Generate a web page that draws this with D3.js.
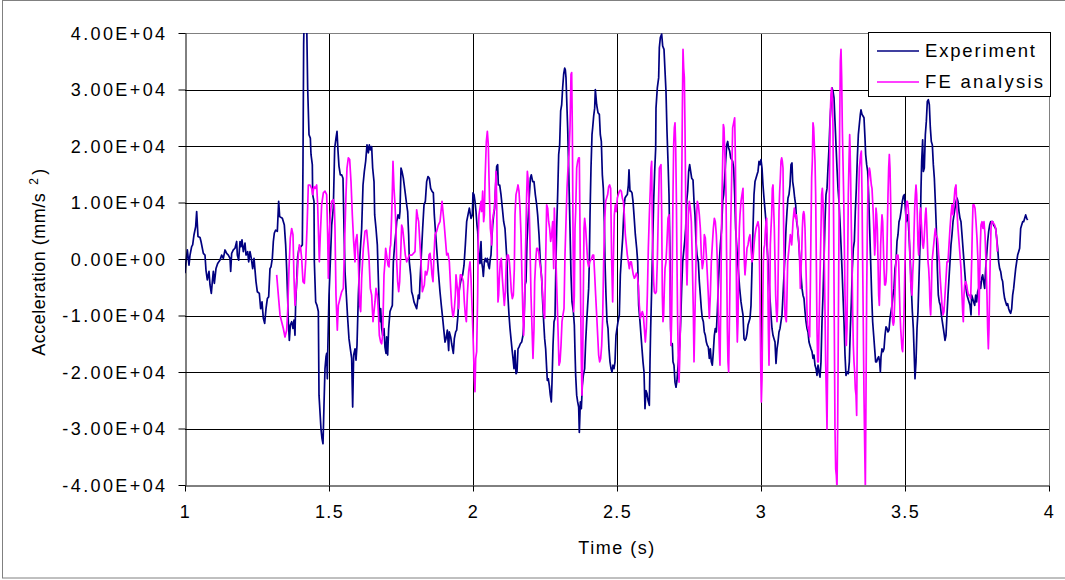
<!DOCTYPE html>
<html><head><meta charset="utf-8">
<script src="https://cdn.jsdelivr.net/npm/d3@7"></script>
<style>
html,body{margin:0;padding:0;background:#fff;}
svg{display:block;font-family:"Liberation Sans",Arial,sans-serif;}
</style></head>
<body>
<svg id="chart" width="1065" height="580"></svg>
<script>
// ---------------- DATA ----------------
const xTicks = [1, 1.5, 2, 2.5, 3, 3.5, 4];
const xTickLabels = ["1", "1.5", "2", "2.5", "3", "3.5", "4"];
const yTicks = [40000, 30000, 20000, 10000, 0, -10000, -20000, -30000, -40000];
const yTickLabels = ["4.00E+04", "3.00E+04", "2.00E+04", "1.00E+04", "0.00E+00", "-1.00E+04", "-2.00E+04", "-3.00E+04", "-4.00E+04"];
const seriesNames = ["Experiment", "FE analysis"];

const expTime = [1.0000,1.0035,1.0081,1.0139,1.0174,1.0231,1.0266,1.0313,1.0370,1.0405,1.0451,1.0521,1.0556,1.0637,1.0694,1.0729,1.0775,1.0833,1.0868,1.0914,1.0949,1.0984,1.1019,1.1076,1.1134,1.1215,1.1273,1.1331,1.1389,1.1447,1.1505,1.1563,1.1586,1.1620,1.1678,1.1736,1.1794,1.1817,1.1863,1.1910,1.1944,1.1979,1.2025,1.2083,1.2118,1.2176,1.2211,1.2257,1.2303,1.2350,1.2396,1.2465,1.2512,1.2581,1.2627,1.2674,1.2720,1.2766,1.2813,1.2859,1.2905,1.2951,1.2986,1.3032,1.3067,1.3102,1.3148,1.3206,1.3252,
1.3287,1.3380,1.3449,1.3495,1.3530,1.3565,1.3588,1.3623,1.3657,1.3704,1.3750,1.3785,1.3819,1.3843,1.3877,1.3912,1.3958,1.4028,1.4074,1.4097,1.4120,1.4155,1.4225,1.4259,1.4306,1.4352,1.4375,1.4421,1.4433,1.4479,1.4491,1.4537,1.4583,1.4630,1.4653,1.4722,1.4757,1.4792,1.4826,1.4861,1.4896,1.4919,1.4942,1.4954,1.5000,1.5046,1.5093,1.5150,1.5197,1.5243,1.5278,1.5313,1.5347,1.5394,1.5440,1.5486,1.5521,1.5556,1.5602,1.5648,1.5694,1.5741,1.5787,1.5822,1.5856,1.5903,1.5938,1.5972,1.6019,1.6076,1.6134,1.6181,1.6227,1.6273,1.6319,1.6366,1.6400,1.6435,1.6481,
1.6516,1.6563,1.6586,1.6632,1.6678,1.6713,1.6748,1.6771,1.6794,1.6829,1.6863,1.6910,1.6944,1.6979,1.7002,1.7037,1.7072,1.7118,1.7153,1.7199,1.7234,1.7280,1.7326,1.7350,1.7396,1.7442,1.7465,1.7500,1.7535,1.7581,1.7639,1.7697,1.7731,1.7766,1.7789,1.7836,1.7870,1.7905,1.7951,1.7998,1.8044,1.8102,1.8137,1.8160,1.8206,1.8252,1.8299,1.8345,1.8391,1.8438,1.8484,1.8530,1.8576,1.8623,1.8657,1.8704,1.8738,1.8796,1.8854,1.8900,1.8947,1.8993,1.9028,1.9063,1.9109,1.9155,1.9178,1.9225,1.9259,1.9317,1.9352,1.9398,1.9433,1.9479,1.9514,1.9549,1.9595,1.9641,1.9688,1.9734,1.9780,1.9826,1.9873,
1.9931,1.9977,2.0000,2.0035,2.0069,2.0104,2.0139,2.0162,2.0185,2.0208,2.0243,2.0278,2.0301,2.0336,2.0359,2.0394,2.0428,2.0463,2.0498,2.0532,2.0567,2.0602,2.0625,2.0648,2.0683,2.0718,2.0752,2.0787,2.0822,2.0856,2.0880,2.0926,2.0972,2.1019,2.1065,2.1111,2.1146,2.1181,2.1204,2.1250,2.1285,2.1319,2.1354,2.1389,2.1424,2.1458,2.1493,2.1528,2.1563,2.1597,2.1644,2.1690,2.1736,2.1771,2.1806,2.1840,2.1875,2.1910,2.1944,2.1991,2.2025,2.2072,2.2118,2.2164,2.2211,2.2245,2.2292,2.2338,2.2384,2.2419,2.2454,2.2488,2.2523,2.2558,2.2581,2.2616,2.2650,2.2685,2.2720,2.2743,2.2778,2.2813,2.2847,2.2870,2.2905,2.2940,2.2975,2.3009,2.3044,2.3079,2.3113,2.3148,2.3183,
2.3206,2.3229,2.3252,2.3287,2.3322,2.3368,2.3403,2.3438,2.3484,2.3519,2.3542,2.3565,2.3600,2.3634,2.3669,2.3692,2.3727,2.3762,2.3796,2.3831,2.3877,2.3912,2.3947,2.3981,2.4016,2.4039,2.4063,2.4097,2.4132,2.4155,2.4190,2.4225,2.4248,2.4294,2.4340,2.4387,2.4421,2.4456,2.4491,2.4525,2.4560,2.4583,2.4618,2.4653,2.4688,2.4722,2.4757,2.4792,2.4826,2.4861,2.4896,2.4931,2.4965,2.5000,2.5035,2.5081,2.5116,2.5150,2.5197,2.5243,2.5278,2.5313,2.5359,2.5394,2.5417,2.5451,2.5486,2.5521,2.5556,2.5590,2.5637,2.5683,2.5718,2.5752,2.5799,2.5833,2.5868,2.5903,2.5938,2.5972,2.6007,2.6042,2.6076,2.6123,2.6146,2.6169,2.6204,2.6238,2.6273,2.6308,2.6343,
2.6354,2.6400,2.6447,2.6470,2.6505,2.6551,2.6586,2.6632,2.6667,2.6701,2.6736,2.6771,2.6806,2.6840,2.6863,2.6887,2.6921,2.6944,2.6979,2.7014,2.7049,2.7083,2.7130,2.7176,2.7211,2.7245,2.7280,2.7315,2.7350,2.7384,2.7419,2.7454,2.7488,2.7523,2.7558,2.7593,2.7639,2.7674,2.7708,2.7743,2.7778,2.7824,2.7859,2.7894,2.7928,2.7963,2.7998,2.8032,2.8067,2.8102,2.8137,2.8171,2.8206,2.8241,2.8275,2.8310,2.8345,2.8380,2.8414,2.8449,2.8484,2.8519,2.8553,2.8588,2.8634,2.8669,2.8704,2.8738,2.8773,2.8808,2.8843,2.8877,2.8912,2.8947,2.8981,2.9016,2.9051,2.9086,2.9120,2.9155,2.9190,2.9225,2.9259,2.9306,2.9340,2.9375,2.9410,2.9444,2.9479,2.9514,2.9549,2.9583,2.9618,2.9653,2.9687,2.9722,2.9757,
2.9792,2.9826,2.9861,2.9896,2.9931,2.9965,3.0000,3.0035,3.0069,3.0104,3.0139,3.0174,3.0208,3.0243,3.0278,3.0312,3.0347,3.0382,3.0417,3.0451,3.0486,3.0521,3.0556,3.0590,3.0625,3.0660,3.0694,3.0729,3.0764,3.0799,3.0833,3.0868,3.0903,3.0937,3.0972,3.1007,3.1042,3.1076,3.1100,3.1134,3.1169,3.1204,3.1238,3.1273,3.1308,3.1354,3.1389,3.1424,3.1458,3.1493,3.1528,3.1563,3.1597,3.1632,3.1667,3.1701,3.1736,3.1771,3.1806,3.1840,3.1875,3.1910,3.1944,3.1979,3.2014,3.2049,3.2083,3.2118,3.2153,3.2187,3.2222,3.2257,3.2292,3.2326,3.2361,3.2396,3.2431,3.2465,3.2500,3.2535,3.2569,3.2604,3.2639,3.2674,3.2708,3.2743,3.2778,3.2812,3.2847,3.2882,3.2917,3.2951,
3.2998,3.3032,3.3067,3.3102,3.3137,3.3171,3.3206,3.3241,3.3275,3.3310,3.3345,3.3380,3.3414,3.3449,3.3472,3.3507,3.3542,3.3576,3.3611,3.3634,3.3669,3.3704,3.3738,3.3773,3.3808,3.3843,3.3877,3.3912,3.3947,3.3981,3.4016,3.4051,3.4086,3.4120,3.4144,3.4167,3.4201,3.4236,3.4271,3.4306,3.4340,3.4375,3.4410,3.4444,3.4479,3.4514,3.4549,3.4583,3.4618,3.4653,3.4688,3.4722,3.4757,3.4792,3.4826,3.4861,3.4907,3.4942,3.4977,3.5012,3.5046,3.5081,3.5116,3.5150,3.5185,3.5220,3.5255,3.5289,3.5324,3.5347,3.5382,3.5417,3.5451,3.5486,3.5521,3.5556,3.5579,3.5613,3.5637,3.5671,3.5706,3.5741,3.5775,3.5810,3.5845,3.5880,3.5914,3.5949,3.5984,3.6019,3.6053,3.6088,3.6123,3.6157,3.6192,3.6227,3.6262,3.6296,3.6331,3.6366,
3.6389,3.6424,3.6458,3.6493,3.6528,3.6562,3.6597,3.6632,3.6667,3.6701,3.6736,3.6771,3.6806,3.6840,3.6875,3.6910,3.6944,3.6979,3.7014,3.7049,3.7083,3.7118,3.7153,3.7187,3.7222,3.7257,3.7292,3.7315,3.7350,3.7384,3.7419,3.7454,3.7488,3.7523,3.7558,3.7593,3.7627,3.7662,3.7697,3.7731,3.7766,3.7801,3.7836,3.7870,3.7905,3.7940,3.7975,3.8009,3.8044,3.8079,3.8113,3.8148,3.8183,3.8218,3.8252,3.8287,3.8322,3.8356,3.8391,3.8426,3.8461,3.8495,3.8530,3.8565,3.8600,3.8634,3.8669,3.8704,3.8738,3.8773,3.8808,3.8843,3.8877,3.8912,3.8947,3.8981,3.9016,3.9051,3.9086,3.9120,3.9155,3.9190,3.9225,3.9259];

const expAccel = [-2500,-500,1600,-1100,700,2200,2500,4300,5700,8400,4000,3800,3100,1000,700,-2000,-3700,-2200,-4600,-6100,-4000,-2200,-4300,-1700,-800,-200,700,100,1600,1000,700,100,-2200,1000,1600,1900,3100,700,-200,3100,2200,3400,1300,2800,700,1300,-500,1300,100,-1700,100,-4000,-5800,-6100,-8800,-7600,-10500,-11400,-8800,-7000,-6700,-1700,-1400,100,3100,4600,5100,4900,10200,
7500,7200,6000,2500,-1700,-7000,-11100,-14400,-11700,-11100,-12300,-10800,-13500,-7600,-4000,400,1900,2200,2500,17300,38000,48000,42000,30300,22000,21400,18500,16700,11400,10200,-500,-7600,-8200,-9300,-24100,-30100,-31800,-32700,-25900,-19400,-17300,-16700,-21200,-17000,-6400,-500,6000,9000,19600,21400,22600,19100,16400,14900,14900,14300,5400,-2200,-6400,-10500,-14100,-15900,-17600,-26200,-17000,-15900,-17900,-15300,-6400,700,5400,13100,15500,17300,20200,18800,20200,19300,19900,
16100,13700,7800,5400,2500,-3400,-9300,-11100,-8800,-12300,-13500,-12300,-15600,-16700,-13800,-17000,-12300,-9300,-8800,-8200,-500,2500,4900,6600,7800,7200,8400,16100,15500,14300,12000,9600,8400,4300,-500,-2800,-5800,-6400,-7600,-8200,-8800,-6400,-7000,-4000,700,5400,9600,10200,13700,14600,14300,12500,12000,11700,7800,4300,1900,-2200,-5800,-8200,-10500,-12900,-14700,-14100,-12600,-16200,-12900,-13800,-15000,-16700,-14100,-12900,-12600,-9900,-5800,-4600,-3400,-2800,-1100,2500,6600,7800,9000,
7200,7800,11700,11400,10200,8400,6000,4900,2500,100,-800,3100,-500,-1700,-3100,-500,100,-500,100,-1100,-1700,100,700,3100,6000,7800,9000,13100,16400,16700,13100,13100,11400,9000,6600,5400,2500,-500,-5800,-9900,-12300,-14100,-15900,-17600,-19400,-16200,-20300,-20000,-15900,-15600,-15000,-14700,-13500,-11100,-4600,-4000,3100,6600,10200,14300,14900,13700,13700,11400,9600,7800,4300,-500,-3400,-7600,-11100,-14100,-15900,-19400,-21500,-21200,-22400,-24100,-25300,-21800,-15300,-11100,-10500,-3400,5400,11400,18500,20200,26200,27300,30300,32700,33800,
33500,32100,28500,23200,16100,5400,-2800,-7600,-9300,-11700,-16400,-20600,-24100,-25300,-26200,-30700,-25300,-26500,-22400,-20600,-19400,-14700,-11100,-8200,-5200,-500,7800,16100,22000,23200,25300,26700,30000,27300,25900,25600,22000,20800,14900,12500,6600,-500,-6400,-11100,-12300,-15900,-18200,-19400,-20000,-18800,-19400,-18200,-13500,-12300,-11100,-9900,-2800,100,3700,9000,10800,11100,11400,13100,15800,12000,12000,11700,10200,7800,4300,1900,-500,-8200,-11100,-13500,-15900,-18200,-20000,-26500,-23300,-23800,-25000,-25900,-18200,-12300,-5200,2500,10200,15500,19600,
26700,30300,32100,37400,39200,39800,37700,37100,33300,29700,22600,17300,11400,700,-12300,-15300,-15000,-18200,-18800,-21800,-22700,-21500,-18200,-15300,-11100,-5200,-500,1300,3100,5400,10200,12000,15500,16700,15500,14300,14000,10200,7800,3100,700,-500,-4000,-6400,-8800,-10500,-11100,-12900,-13500,-14700,-15300,-15600,-17600,-15900,-18200,-18800,-16400,-13500,-12300,-12900,-9300,-4600,-500,2500,5400,10200,11400,14300,17300,20200,20800,19600,19100,17900,17600,17300,16100,11400,5400,2500,-500,-2800,-5200,-7600,-8800,-9900,-14100,-14400,-14100,-13200,-11700,-11100,-10500,-8200,-1700,5400,11400,
13700,14300,14900,15500,17300,16700,17600,16100,13100,10800,8700,6600,2500,-500,-4000,-7000,-9900,-12300,-13500,-14100,-14700,-18500,-15900,-14700,-12900,-12300,-11100,-9900,-6400,-2800,700,5400,8400,10800,11400,13100,16700,17000,13700,12500,10800,9600,6600,5400,3100,-500,-2800,-5200,-6400,-7000,-9300,-11100,-12300,-12900,-14700,-15300,-15900,-16400,-17600,-17000,-18800,-19400,-20600,-18800,-20000,-20900,-18200,-11100,-6400,-500,6600,11400,12500,16100,19600,24400,27300,30300,29700,28500,24400,20200,16100,12500,10200,6600,2500,-1700,-6400,-11100,-17000,-20600,
-20000,-20300,-18200,-12300,-7600,-1700,1900,3100,8400,12500,17900,22000,23800,25600,26400,25600,25300,25000,21400,18500,16700,15500,11400,5400,-500,-6400,-11100,-13500,-15900,-18200,-18200,-17600,-17300,-18200,-20000,-17300,-15900,-16400,-15900,-13500,-12000,-12300,-12900,-12600,-10500,-9300,-8200,-6400,-5200,-1700,-500,3100,4300,6600,7200,8400,10200,11100,11400,9000,6600,7800,6600,3100,-500,-5200,-9300,-12300,-17600,-21200,-18200,-12300,-9300,-3400,2500,12500,17300,21100,15500,16100,22000,24400,27900,28200,27300,23200,20800,20200,16700,14300,10200,5400,-1700,-6400,-7600,-8200,-9900,-11100,-12300,-13500,
-14400,-13500,-9900,-6400,-3400,-500,2500,4300,6600,7800,9000,10200,10800,10200,8400,7200,6600,4300,1900,-500,-2800,-5200,-6400,-7000,-7600,-8200,-9900,-6400,-7000,-7600,-8200,-6400,-7600,-5800,-5200,-4000,-5200,-3400,-2800,-4000,-5200,-1700,700,3100,4900,6000,6600,6600,6600,6000,5700,5400,3700,1900,-500,-1700,-2200,-3400,-4000,-5800,-7000,-7600,-8200,-7900,-8800,-9300,-9600,-8800,-6400,-5200,-3400,-1700,-500,700,1300,1900,5400,6000,6600,6600,7200,7800,7200,6900];

const feTime = [1.3183,1.3241,1.3299,1.3356,1.3414,1.3472,1.3530,1.3565,1.3611,1.3657,1.3704,1.3750,1.3785,1.3819,1.3854,1.3900,1.3935,1.3970,1.4016,1.4051,1.4097,1.4144,1.4190,1.4236,1.4282,1.4340,1.4398,1.4433,1.4479,1.4525,1.4572,1.4606,1.4630,1.4664,1.4699,1.4745,1.4803,1.4861,1.4919,1.4954,1.4977,1.5012,1.5046,1.5093,1.5150,1.5185,1.5208,1.5243,1.5289,1.5324,1.5382,1.5440,1.5498,1.5556,1.5590,1.5625,1.5671,1.5718,1.5764,1.5810,1.5856,1.5903,1.5926,1.5972,1.6019,1.6065,1.6100,1.6134,1.6192,1.6250,1.6308,1.6343,1.6389,1.6435,1.6481,1.6528,
1.6597,1.6632,1.6678,1.6713,1.6748,1.6794,1.6829,1.6863,1.6910,1.6944,1.6968,1.7002,1.7049,1.7083,1.7118,1.7141,1.7176,1.7199,1.7222,1.7257,1.7292,1.7326,1.7350,1.7384,1.7419,1.7454,1.7488,1.7523,1.7558,1.7581,1.7616,1.7650,1.7697,1.7743,1.7789,1.7882,1.7986,1.8021,1.8044,1.8079,1.8113,1.8160,1.8194,1.8241,1.8275,1.8310,1.8345,1.8391,1.8438,1.8472,1.8507,1.8542,1.8576,1.8611,1.8646,1.8681,1.8738,1.8796,1.8854,1.8889,1.8924,1.8958,1.8993,1.9039,1.9086,1.9132,1.9178,1.9225,1.9259,1.9294,1.9317,1.9352,1.9387,1.9410,1.9433,1.9468,1.9502,1.9525,1.9560,1.9595,1.9630,1.9664,1.9699,1.9734,1.9769,1.9803,1.9850,1.9896,
1.9931,1.9977,2.0012,2.0046,2.0069,2.0093,2.0127,2.0162,2.0185,2.0208,2.0243,2.0278,2.0301,2.0336,2.0370,2.0394,2.0417,2.0440,2.0463,2.0498,2.0532,2.0556,2.0579,2.0602,2.0625,2.0648,2.0671,2.0706,2.0741,2.0775,2.0799,2.0822,2.0845,2.0868,2.0891,2.0914,2.0949,2.0984,2.1019,2.1053,2.1088,2.1123,2.1157,2.1192,2.1227,2.1262,2.1296,2.1331,2.1366,2.1400,2.1435,2.1458,2.1493,2.1528,2.1563,2.1597,2.1632,2.1667,2.1701,2.1736,2.1759,2.1794,2.1817,2.1840,2.1863,2.1887,2.1910,2.1944,2.1968,2.1991,2.2014,2.2049,2.2083,2.2118,2.2141,2.2176,2.2211,2.2245,2.2280,2.2315,2.2350,2.2384,2.2419,2.2454,2.2488,2.2512,2.2535,2.2558,2.2593,2.2627,2.2662,2.2697,2.2731,2.2766,2.2801,2.2824,2.2847,2.2882,2.2917,2.2951,2.2986,2.3021,2.3056,2.3090,2.3125,2.3160,
2.3194,2.3229,2.3264,2.3299,2.3333,2.3368,2.3403,2.3426,2.3449,2.3472,2.3495,2.3519,2.3542,2.3565,2.3600,2.3634,2.3669,2.3692,2.3715,2.3738,2.3762,2.3785,2.3808,2.3831,2.3854,2.3877,2.3912,2.3947,2.3981,2.4016,2.4051,2.4120,2.4155,2.4190,2.4225,2.4259,2.4294,2.4329,2.4363,2.4398,2.4433,2.4468,2.4502,2.4537,2.4572,2.4606,2.4641,2.4676,2.4711,2.4745,2.4780,2.4815,2.4850,2.4873,2.4907,2.4942,2.4977,2.5012,2.5046,2.5081,2.5116,2.5150,2.5185,2.5220,2.5255,2.5289,2.5324,2.5359,2.5394,2.5428,2.5463,2.5498,2.5532,2.5567,2.5602,2.5637,2.5671,2.5706,2.5741,2.5775,2.5810,2.5845,2.5880,2.5914,2.5949,2.5984,2.6019,2.6053,2.6088,2.6123,2.6157,2.6181,2.6204,2.6227,2.6250,2.6273,2.6296,2.6331,2.6366,2.6400,2.6435,2.6470,
2.6528,2.6551,2.6574,2.6597,2.6620,2.6644,2.6667,2.6701,2.6736,2.6771,2.6806,2.6829,2.6852,2.6875,2.6898,2.6921,2.6944,2.6968,2.6991,2.7014,2.7037,2.7060,2.7083,2.7106,2.7130,2.7153,2.7176,2.7199,2.7222,2.7245,2.7269,2.7292,2.7315,2.7338,2.7361,2.7384,2.7407,2.7431,2.7454,2.7477,2.7512,2.7546,2.7581,2.7616,2.7650,2.7674,2.7697,2.7720,2.7743,2.7766,2.7789,2.7824,2.7859,2.7894,2.7928,2.7963,2.7998,2.8032,2.8067,2.8102,2.8137,2.8171,2.8206,2.8241,2.8275,2.8310,2.8345,2.8380,2.8414,2.8449,2.8484,2.8519,2.8553,2.8576,2.8600,2.8623,2.8646,2.8669,2.8692,2.8715,2.8738,2.8762,2.8785,2.8808,2.8831,2.8854,2.8877,2.8900,2.8924,2.8947,2.8970,2.8993,2.9016,2.9062,2.9086,2.9109,2.9132,2.9155,2.9178,2.9201,2.9225,2.9248,2.9271,2.9306,2.9340,2.9375,2.9398,2.9421,2.9444,2.9479,2.9514,2.9549,2.9583,2.9618,2.9653,2.9687,2.9722,2.9757,
2.9792,2.9826,2.9861,2.9896,2.9931,2.9965,2.9988,3.0012,3.0035,3.0058,3.0081,3.0104,3.0127,3.0150,3.0174,3.0197,3.0231,3.0255,3.0278,3.0301,3.0324,3.0347,3.0370,3.0394,3.0417,3.0440,3.0463,3.0486,3.0509,3.0532,3.0556,3.0579,3.0602,3.0625,3.0648,3.0671,3.0694,3.0718,3.0741,3.0764,3.0787,3.0810,3.0833,3.0856,3.0880,3.0903,3.0926,3.0949,3.0972,3.0995,3.1019,3.1042,3.1065,3.1088,3.1111,3.1134,3.1157,3.1181,3.1204,3.1227,3.1250,3.1273,3.1296,3.1319,3.1343,3.1366,3.1389,3.1412,3.1435,3.1458,3.1481,3.1505,3.1528,3.1551,3.1574,3.1597,3.1620,3.1644,3.1667,3.1690,3.1713,3.1736,3.1759,3.1782,3.1806,3.1829,3.1852,3.1875,3.1898,3.1921,3.1944,3.1968,3.1991,3.2014,3.2037,3.2060,3.2083,3.2106,3.2130,3.2153,3.2176,3.2199,3.2222,3.2245,3.2269,3.2292,3.2315,3.2338,3.2361,3.2384,3.2407,3.2431,3.2454,3.2477,3.2500,3.2523,3.2546,3.2569,3.2593,3.2616,3.2639,3.2662,3.2685,3.2708,3.2731,3.2755,3.2778,3.2801,3.2824,3.2847,3.2870,3.2894,3.2917,3.2940,3.2963,3.2986,3.3009,3.3032,3.3056,3.3079,
3.3090,3.3113,3.3137,3.3160,3.3183,3.3206,3.3229,3.3252,3.3275,3.3299,3.3322,3.3345,3.3368,3.3391,3.3414,3.3437,3.3461,3.3484,3.3507,3.3530,3.3553,3.3576,3.3600,3.3623,3.3646,3.3669,3.3692,3.3715,3.3738,3.3762,3.3785,3.3808,3.3831,3.3854,3.3877,3.3900,3.3924,3.3947,3.3970,3.3993,3.4016,3.4039,3.4063,3.4086,3.4109,3.4132,3.4155,3.4178,3.4201,3.4225,3.4248,3.4271,3.4294,3.4317,3.4340,3.4363,3.4387,3.4410,3.4433,3.4456,3.4479,3.4502,3.4525,3.4549,3.4572,3.4595,3.4618,3.4641,3.4664,3.4688,3.4711,3.4734,3.4757,3.4780,3.4803,3.4826,3.4850,3.4873,3.4896,3.4919,3.4942,3.4965,3.4988,3.5012,3.5035,3.5058,3.5081,3.5104,3.5127,3.5150,3.5174,3.5197,3.5220,3.5243,3.5266,3.5289,3.5312,3.5336,3.5359,3.5382,3.5405,3.5428,3.5451,3.5475,3.5498,3.5521,3.5544,3.5567,3.5590,3.5613,3.5637,3.5660,3.5683,3.5706,3.5729,3.5752,3.5775,3.5799,3.5822,3.5845,3.5868,3.5891,3.5914,3.5938,3.5961,3.5984,3.6007,3.6030,3.6053,3.6076,3.6100,3.6123,3.6146,3.6169,3.6192,3.6215,3.6238,3.6262,3.6285,3.6308,
3.6319,3.6354,3.6389,3.6424,3.6458,3.6493,3.6528,3.6562,3.6597,3.6632,3.6667,3.6701,3.6736,3.6771,3.6806,3.6840,3.6875,3.6910,3.6944,3.6979,3.7002,3.7025,3.7049,3.7072,3.7106,3.7141,3.7176,3.7211,3.7245,3.7280,3.7315,3.7338,3.7361,3.7396,3.7431,3.7465,3.7500,3.7535,3.7569,3.7593,3.7616,3.7639,3.7674,3.7708,3.7743,3.7778,3.7813,3.7847,3.7870,3.7894,3.7917,3.7940,3.7963,3.7986,3.8009,3.8044,3.8079,3.8113,3.8148,3.8183,3.8206];

const feAccel = [-2800,-6400,-9900,-11100,-12300,-13800,-12600,-9300,-1700,3700,5400,4300,-3400,-8200,-5800,-2800,700,2500,1900,100,-4000,-4300,-500,5400,13100,13100,12500,11400,12800,12500,13100,9600,5400,-500,4300,9600,11700,12000,11400,4300,-3400,4300,7800,10200,10500,9600,5400,-6400,-12600,-8200,-7000,-5800,-5200,5400,11400,16100,17900,17600,13700,7800,3100,-500,3100,4300,-500,-8200,-9300,-3400,1900,4900,5100,3100,100,-5200,-6400,-11100,
-7600,-5200,-6400,-9300,-13500,-14700,-15000,-13500,-2800,-500,1900,700,-1100,-1400,1900,2500,7800,12000,17300,12500,9600,5400,-500,-4000,-5800,-4000,700,6000,5400,4300,2500,700,-500,100,700,700,1300,6000,8700,7500,6600,2500,-500,-5800,-5200,-4600,-2200,-2800,-1700,700,1000,-500,-2800,-4000,700,4300,4900,6000,6600,8400,10200,8400,6600,3700,700,1000,-500,-5200,-8200,-9900,-10200,-8800,-6400,-2800,-4000,-5800,-8800,-5200,-2800,-2800,-3400,-4000,-7600,-9900,-11100,-6400,-2200,-500,
-3400,-9900,-15300,-21200,-23500,-17600,-16400,-6400,4300,7800,9000,10200,8400,12000,6600,7800,13700,17300,20800,22600,20200,14300,9600,5400,4300,2500,6600,7800,9000,12000,15500,10200,-500,-7600,-6400,-3400,-500,100,-3400,-5800,-8200,-5800,-500,700,700,-500,-2800,-5800,-7000,-6400,-1700,7800,11400,12200,13100,12000,9000,4300,-3400,-10500,-13500,-7600,-500,5400,11400,15500,14300,10200,5400,-500,-6400,-12300,-17600,-12300,-4000,-500,1900,1900,1300,-500,-1700,-3400,-6400,-9300,-10500,-3400,3100,9600,9000,6600,5400,3100,4300,6600,-1700,9000,5400,-500,-6400,-12300,-18800,-18200,-15300,-11100,-9900,-8800,
700,6600,12500,16100,18500,23200,32700,33000,23200,5400,-9300,-6400,5400,8400,16100,17300,17900,17900,5400,-7600,-18200,-24100,-18200,-6400,5400,7200,5400,2500,-500,-1400,-500,100,700,700,-2800,-6400,-9900,-13500,-17000,-18200,-17600,-15300,-10500,-500,6600,10200,10800,11400,12800,13100,12500,-500,-7600,-500,7800,9600,8400,10800,11400,12000,12200,12000,10800,10200,7800,4300,2500,700,-500,-1700,-500,-500,-1700,-2800,-3400,-3100,-2500,-2800,-4600,-8200,-10500,-9900,-9300,-9900,-12300,-14700,-12300,-6400,1900,7800,12500,16100,17300,5400,-500,-4000,-5800,-6100,-5800,-500,8400,16100,
16700,8400,-6400,-11100,-9900,-5200,-1700,-500,3100,7200,7800,-500,-9300,-15300,-10500,-500,11400,20200,23200,24100,20200,11400,-500,-11100,-18200,-21800,-18200,-12300,-500,11400,26200,37100,33800,32100,23200,11400,-500,-4600,700,7800,10200,9000,6600,-500,-9300,-18200,-12300,-6400,-500,7800,10200,9600,7800,5400,700,-1700,-500,4300,3700,700,-2800,-6400,-10500,-6400,-500,2500,5400,7200,6600,4300,-500,-9300,-15900,-18800,-9300,2500,11400,17300,23800,23200,19600,16100,11400,-500,-12300,-18200,-20000,-12300,-3400,5400,11400,17300,23200,24400,25000,18500,5400,-9300,-14700,-11100,-500,5400,7800,10200,11400,12500,5400,-500,-2800,-500,1900,2500,3700,4300,1900,-500,100,2500,
4300,5400,6000,6600,5400,-6400,-18200,-25300,-21200,-9300,-500,1900,2500,4900,6600,7200,-500,-12300,-18800,-9300,2500,5400,7800,12500,13100,9000,5400,-500,-6400,-9300,-11100,-8200,-500,8400,11900,14300,17300,17900,17300,16100,5400,-3400,-9900,-10500,-11100,-6400,-500,700,1900,3100,4300,3700,2500,4300,6600,7800,9000,7800,7200,7800,6600,5400,4300,2500,-500,-5200,-1700,700,5400,7800,8400,7800,5400,700,-4000,-9300,-11700,-12300,-12900,-13800,-5200,5400,14300,17300,24100,23200,20200,17300,11400,-500,-12300,-18200,-18200,-12300,-6400,-500,5400,11400,12500,10200,5400,-500,-9300,-18200,-24100,-30100,-18200,-6400,5400,17300,26200,29100,30300,29100,23200,5400,-12300,-30100,-37200,-38300,-40700,-30100,-12300,5400,23200,35000,37100,32100,23200,17300,11400,2500,-6400,-11100,-15300,-12300,-500,11400,17300,22000,
20200,14300,5400,-500,-9300,-15300,-18200,-20000,-23000,-24100,-27700,-12300,-500,11400,16100,17300,18500,19100,11400,-500,-12300,-24100,-33000,-40700,-24100,-6400,5400,12500,14900,16100,15500,14300,13100,12500,10200,7800,4300,700,3100,9000,7800,5400,-500,-6400,-8200,-4000,2500,5400,7800,6600,2500,-1700,-4600,-4600,-4000,-1700,5400,11400,16100,18500,16100,10200,-500,-9300,-11100,-11700,-11100,-7600,-3400,-500,700,100,700,-500,-5200,-9300,-12300,-14100,-15900,-16400,-13500,-9900,-3400,2500,8400,10200,10200,9600,7800,4300,-500,-4000,-5200,-6400,-2800,-500,4300,9000,11400,13100,11400,7800,2500,700,4300,7800,9000,6600,4300,2500,1900,3100,5400,7800,9000,6600,3100,-500,-1700,-4000,-8200,-9900,-6400,-500,700,1900,3100,4300,5400,4300,4000,3700,2500,700,-500,-2800,-4600,-6400,-8200,-8800,
-9900,-9300,-6400,-3400,-500,-500,2500,5400,7800,9600,7800,10200,12500,13100,8400,5400,3100,700,-1700,-6400,-9300,-11100,-6400,-4600,-4000,-4600,-5800,-6400,-6400,-7000,-500,5400,9600,9600,9000,6600,3700,-500,-9900,-3400,2500,6000,6600,5400,6600,4300,-500,-6400,-12300,-15900,-12300,-5200,700,5400,6600,6600,6300,6000,5400,3700,1300];

// ---------------- LAYOUT ----------------
const W = 1065, H = 580;
const plot = {left: 185, right: 1049, top: 33, bottom: 485};
const colors = {exp: "#000080", fe: "#FF00FF"};

const svg = d3.select("#chart");
svg.append("rect").attr("x", 0).attr("y", 0).attr("width", W).attr("height", H).attr("fill", "#fff");
// outer chart border
svg.append("rect").attr("x", 2.5).attr("y", 0.5).attr("width", W - 2).attr("height", 577.5)
  .attr("fill", "none").attr("stroke", "#808080").attr("stroke-width", 1);

const x = d3.scaleLinear().domain([1, 4]).range([plot.left, plot.right]);
const y = d3.scaleLinear().domain([-40000, 40000]).range([plot.bottom, plot.top]);

// gridlines
const grid = svg.append("g");
grid.selectAll("line.h").data(yTicks.filter(d => d > -40000 && d < 40000)).enter().append("line")
  .attr("x1", plot.left).attr("x2", plot.right)
  .attr("y1", d => Math.round(y(d)) + 0.5).attr("y2", d => Math.round(y(d)) + 0.5)
  .attr("stroke", "#000").attr("stroke-width", 1);
grid.selectAll("line.v").data(xTicks.filter(d => d > 1 && d < 4)).enter().append("line")
  .attr("y1", plot.top).attr("y2", plot.bottom)
  .attr("x1", d => Math.round(x(d)) + 0.5).attr("x2", d => Math.round(x(d)) + 0.5)
  .attr("stroke", "#000").attr("stroke-width", 1);
// plot frame (top/right gray)
grid.append("line").attr("x1", plot.left).attr("x2", plot.right).attr("y1", plot.top + 0.5).attr("y2", plot.top + 0.5).attr("stroke", "#808080");
grid.append("line").attr("x1", plot.right + 0.5).attr("x2", plot.right + 0.5).attr("y1", plot.top).attr("y2", plot.bottom).attr("stroke", "#808080");

// clip
svg.append("clipPath").attr("id", "clip").append("rect")
  .attr("x", plot.left).attr("y", plot.top).attr("width", plot.right - plot.left).attr("height", plot.bottom - plot.top);

const line = d3.line().x(d => x(d[0])).y(d => y(d[1]));
const expData = expTime.map((t, i) => [t, expAccel[i]]);
const feData = feTime.map((t, i) => [t, feAccel[i]]);
const lines = svg.append("g").attr("clip-path", "url(#clip)");
lines.append("path").datum(expData).attr("d", line).attr("fill", "none")
  .attr("stroke", colors.exp).attr("stroke-width", 1.7).attr("stroke-linejoin", "round");
lines.append("path").datum(feData).attr("d", line).attr("fill", "none")
  .attr("stroke", colors.fe).attr("stroke-width", 1.7).attr("stroke-linejoin", "round");

// axes
const fontFam = '"Liberation Sans", Arial, sans-serif';
const yAxis = d3.axisLeft(y).tickValues(yTicks).tickFormat((d, i) => yTickLabels[i]).tickSize(7).tickSizeOuter(0).tickPadding(11);
const gy = svg.append("g").attr("transform", `translate(${plot.left + 0.5},0)`).call(yAxis);
const xAxis = d3.axisBottom(x).tickValues(xTicks).tickFormat((d, i) => xTickLabels[i]).tickSize(6).tickSizeOuter(0).tickPadding(14);
const gx = svg.append("g").attr("transform", `translate(0,${plot.bottom + 0.5})`).call(xAxis);
[gx, gy].forEach(g => {
  g.selectAll("path.domain").attr("stroke", "#000").attr("stroke-width", 1);
  g.selectAll(".tick line").attr("stroke", "#000");
  g.selectAll("text").attr("font-family", fontFam).attr("font-size", 18).attr("fill", "#000");
});
gx.selectAll("text").style("letter-spacing", "1.3px");
gy.selectAll("text").attr("dy", "0.36em").style("letter-spacing", "2.4px");

// axis titles
svg.append("text").attr("x", (plot.left + plot.right) / 2).attr("y", 554)
  .attr("text-anchor", "middle").attr("font-family", fontFam).attr("font-size", 18)
  .style("letter-spacing", "1.5px").text("Time (s)");

const yt = svg.append("text").attr("transform", "translate(45,262) rotate(-90)")
  .attr("text-anchor", "middle").attr("font-family", fontFam).attr("font-size", 18)
  .style("letter-spacing", "0.5px");
yt.append("tspan").text("Acceleration (mm/s");
yt.append("tspan").attr("dx", 8).attr("dy", -7).attr("font-size", 12).text("2");
yt.append("tspan").attr("dx", 3).attr("dy", 7).text(")");

// legend
const lg = svg.append("g");
lg.append("rect").attr("x", 868.5).attr("y", 32.5).attr("width", 182).attr("height", 64)
  .attr("fill", "#fff").attr("stroke", "#000").attr("stroke-width", 1);
const legendItems = [{name: seriesNames[0], color: colors.exp, len: 110}, {name: seriesNames[1], color: colors.fe, len: 118}];
legendItems.forEach((it, i) => {
  const cy = 51 + i * 31;
  lg.append("line").attr("x1", 877).attr("x2", 919).attr("y1", cy).attr("y2", cy)
    .attr("stroke", it.color).attr("stroke-width", 1.7);
  lg.append("text").attr("x", 925).attr("y", cy + 6).attr("font-family", fontFam).attr("font-size", 18.5)
    .attr("textLength", it.len).attr("lengthAdjust", "spacing").text(it.name);
});
</script>
</body></html>
